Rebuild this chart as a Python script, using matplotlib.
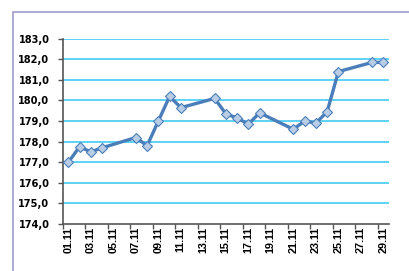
import matplotlib.pyplot as plt
from matplotlib.patches import Rectangle

# Daily values (working days only), November
days = [1, 2, 3, 4, 7, 8, 9, 10, 11, 14, 15, 16, 17, 18, 21, 22, 23, 24, 25, 28, 29]
values = [177.0, 177.75, 177.5, 177.7, 178.2, 177.8, 179.0, 180.2, 179.65,
          180.1, 179.35, 179.15, 178.85, 179.4, 178.6, 179.0, 178.9, 179.45,
          181.4, 181.85, 181.85]
label_days = list(range(1, 30, 2))
tick_labels = ["{:02d}.11".format(d) for d in label_days]
y_ticks = [174, 175, 176, 177, 178, 179, 180, 181, 182, 183]

plt.rcParams['font.family'] = ['Liberation Sans', 'DejaVu Sans']

fig = plt.figure(figsize=(4.09, 2.71), dpi=100)
fig.patch.set_facecolor('white')

# outer chart frame (runs off the right and bottom edges)
fig.patches.append(Rectangle((13 / 409, -0.1), 1.2, 1 - 11.7 / 271 + 0.1,
                             transform=fig.transFigure, fill=False,
                             edgecolor='#a09ccc', linewidth=1.2))

ax = fig.add_axes([62.7 / 409, 1 - 224 / 271, (389 - 62.7) / 409, (224 - 38.7) / 271])

for v in y_ticks[1:]:
    ax.axhline(v, color='#30c6f5', linewidth=1.1, zorder=1)

ax.plot(days, values, color='#4a7ebb', linewidth=2.4, marker='D', markersize=5.4,
        markerfacecolor='#b9cde5', markeredgecolor='#4a7ebb', markeredgewidth=0.8,
        zorder=3, clip_on=False)

ax.set_xlim(0.5, 29.5)
ax.set_ylim(174, 183)

ax.set_yticks(y_ticks)
ax.set_yticklabels(["{:.1f}".format(v).replace('.', ',') for v in y_ticks],
                   fontsize=7.1, fontweight='bold', family='DejaVu Sans')

ax.set_xticks([d + 0.5 for d in range(0, 29, 2)])
ax.set_xticklabels([])
ax.set_xticks(label_days, minor=True)
ax.set_xticklabels(tick_labels, minor=True, rotation=90, fontsize=7.8, fontweight='bold')

ax.tick_params(axis='y', direction='out', length=3.5, width=1, color='#555555', pad=6)
ax.tick_params(axis='x', which='major', direction='out', length=3.5, width=1, color='#555555')
ax.tick_params(axis='x', which='minor', length=0, pad=2)

for s in ['top', 'right']:
    ax.spines[s].set_visible(False)
for s in ['left', 'bottom']:
    ax.spines[s].set_color('#555555')
    ax.spines[s].set_linewidth(1.2)

fig.savefig('out.png', dpi=100)
